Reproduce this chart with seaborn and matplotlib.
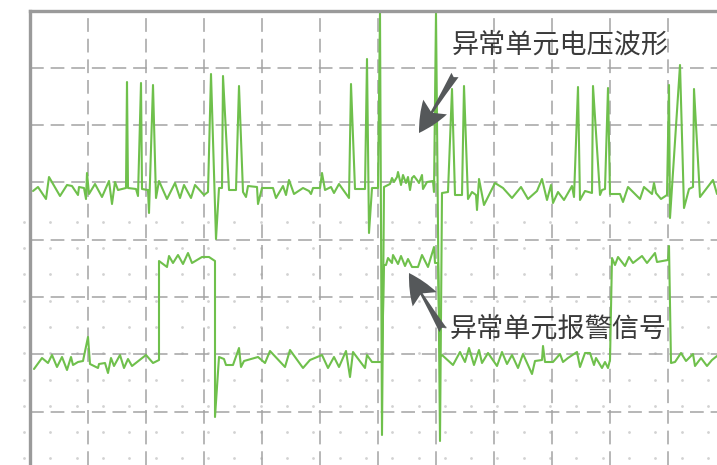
import numpy as np
import pandas as pd
import matplotlib
matplotlib.use("Agg")
import matplotlib.pyplot as plt
from matplotlib.patches import FancyArrowPatch
import seaborn as sns

# ---- data (time in screen-grid units: one division = 58, amplitude: one division = 57.3) ----
volt_t = [3, 8, 16, 19, 30, 37, 42, 48, 49, 54, 56, 57, 59, 65, 72, 79, 82, 85, 88, 96,
          97, 98, 106, 108, 111, 112, 118, 119, 123, 126, 129, 137, 145, 150, 154, 161, 165, 174,
          178, 181, 186, 189, 192, 193, 199, 206, 209, 213, 216, 218, 227, 228, 232, 243, 246,
          253, 256, 259, 264, 273, 279, 281, 283, 290, 292, 295, 301, 304, 309, 319, 321, 325,
          335, 337, 339, 342, 348, 350, 352, 354, 360, 362, 364, 367, 368, 371, 373, 376, 378,
          380, 382, 384, 387, 389, 392, 393, 397, 403, 404, 406, 410, 412, 418, 422, 425, 432,
          434, 438, 442, 446, 447, 449, 454, 465, 473, 482, 491, 498, 507, 512, 517, 521, 523,
          528, 534, 542, 544, 548, 550, 555, 562, 563, 570, 572, 575, 578, 580, 590, 593, 598,
          610, 614, 622, 624, 626, 631, 637, 639, 640, 650, 654, 659, 663, 664, 670, 683, 687]
volt_v = [278, 282, 270, 292, 273, 284, 283, 274, 282, 281, 270, 296, 275, 285, 272, 288, 265, 287, 279, 281,
          387, 281, 280, 273, 386, 280, 279, 256, 384, 271, 288, 270, 286, 271, 284, 271, 284, 274,
          277, 395, 230, 281, 281, 393, 279, 279, 383, 277, 272, 283, 282, 265, 281, 281, 271,
          283, 274, 289, 275, 281, 278, 275, 281, 281, 296, 279, 282, 276, 285, 271, 385, 280,
          280, 410, 236, 281, 281, 456, 34, 282, 285, 291, 287, 292, 297, 284, 294, 286, 292,
          279, 291, 293, 289, 286, 294, 280, 287, 288, 277, 456, 28, 276, 277, 380, 274, 274,
          383, 270, 277, 274, 259, 290, 264, 286, 281, 271, 282, 270, 278, 290, 269, 284, 266,
          277, 269, 283, 272, 382, 269, 278, 276, 383, 274, 279, 280, 381, 275, 275, 267, 282,
          270, 282, 275, 286, 276, 270, 274, 384, 251, 404, 261, 280, 282, 380, 272, 289, 275]

alarm_t = [4, 12, 18, 22, 27, 32, 37, 41, 43, 48, 53, 58, 60, 68, 69, 75, 78, 81, 84, 90,
           94, 98, 102, 116, 123, 129, 129, 137, 139, 143, 148, 153, 158, 162, 172, 179, 185, 185,
           189, 194, 196, 203, 209, 211, 214, 228, 235, 240, 255, 260, 273, 280, 292, 298, 304,
           309, 316, 320, 323, 335, 337, 342, 352, 354, 356, 358, 362, 363, 368, 371, 375, 378,
           382, 388, 392, 398, 404, 405, 408, 410, 412, 423, 430, 435, 439, 444, 449, 452, 458,
           467, 472, 477, 482, 488, 493, 502, 505, 512, 513, 515, 523, 530, 533, 538, 547, 550,
           555, 560, 564, 566, 572, 575, 578, 580, 582, 585, 588, 595, 599, 603, 612, 617, 625,
           627, 638, 639, 641, 645, 651, 656, 663, 665, 671, 677, 682, 687]
alarm_v = [100, 111, 106, 114, 102, 112, 99, 112, 104, 107, 108, 132, 105, 101, 105, 106, 96, 111, 103, 114,
           101, 110, 103, 114, 106, 109, 208, 202, 213, 206, 214, 205, 216, 206, 212, 212, 208, 52,
           112, 110, 104, 104, 121, 102, 108, 112, 106, 118, 102, 119, 101, 109, 114, 101, 112,
           102, 118, 92, 117, 101, 114, 107, 107, 204, 204, 211, 206, 214, 205, 213, 203, 210,
           202, 202, 214, 202, 222, 206, 206, 112, 114, 104, 117, 107, 121, 104, 119, 106, 116,
           103, 117, 105, 114, 101, 115, 95, 108, 109, 123, 107, 107, 115, 107, 111, 117, 102,
           116, 116, 104, 111, 101, 107, 101, 109, 211, 204, 212, 203, 212, 206, 213, 206, 216,
           207, 209, 223, 106, 107, 116, 108, 115, 103, 111, 103, 109, 113]

labels = ["异常单元电压波形", "异常单元报警信号"]

volt = pd.DataFrame({"t": volt_t, "v": volt_v})
alarm = pd.DataFrame({"t": alarm_t, "v": alarm_v})

# ---- style ----
sns.set_theme(style="white")
plt.rcParams["font.family"] = ["Noto Sans CJK SC", "DejaVu Sans"]

W, H = 717, 465
fig = plt.figure(figsize=(W / 100, H / 100), dpi=100)

# background dotted lattice
bg = fig.add_axes([0, 0, 1, 1], zorder=0)
bg.set_xlim(0, W)
bg.set_ylim(H, 0)
bg.axis("off")
step = 26.3
gx, gy = np.meshgrid(np.arange(-2.3, W + 5, step), np.arange(221.7, H + 5, step))
bg.scatter(gx.ravel(), gy.ravel(), s=4, color="#d2d2d2", linewidths=0)

# main scope axes
ax = fig.add_axes([30 / W, 0, (W - 30) / W, (H - 11) / H], zorder=1)
ax.patch.set_alpha(0)
ax.set_xlim(0, 687)
ax.set_ylim(4, 458)

ax.set_xticks(np.arange(1, 12) * 58)
ax.set_yticks(np.arange(1, 8) * 57.3)
ax.grid(True, color="#a3a3a3", linewidth=1.1, linestyle=(0, (9, 4.5)))
ax.tick_params(left=False, bottom=False, labelleft=False, labelbottom=False)

for side in ["right", "bottom"]:
    ax.spines[side].set_visible(False)
for side in ["left", "top"]:
    ax.spines[side].set_color("#9a9a9a")
    ax.spines[side].set_linewidth(2.4)

green = "#6fc04c"
sns.lineplot(data=volt, x="t", y="v", sort=False, estimator=None, ax=ax,
             color=green, linewidth=1.5, clip_on=True)
sns.lineplot(data=alarm, x="t", y="v", sort=False, estimator=None, ax=ax,
             color=green, linewidth=1.5, clip_on=True)
ax.set_xlabel("")
ax.set_ylabel("")

# annotations
ax.text(530, 424, labels[0], ha="center", va="center", fontsize=19.5,
        color="#3a3a3a", fontweight=200, zorder=5)
ax.text(528, 140, labels[1], ha="center", va="center", fontsize=19.5,
        color="#3a3a3a", fontweight=200, zorder=5)

arrow_kw = dict(arrowstyle="fancy,head_length=1.1,head_width=1.0,tail_width=0.3",
                mutation_scale=20, color="#55585a", linewidth=0, zorder=6,
                shrinkA=0, shrinkB=0)
ax.add_patch(FancyArrowPatch((425, 394), (389, 336), **arrow_kw))
ax.add_patch(FancyArrowPatch((413, 139), (379, 196), **arrow_kw))

fig.savefig("out.png", dpi=100)
